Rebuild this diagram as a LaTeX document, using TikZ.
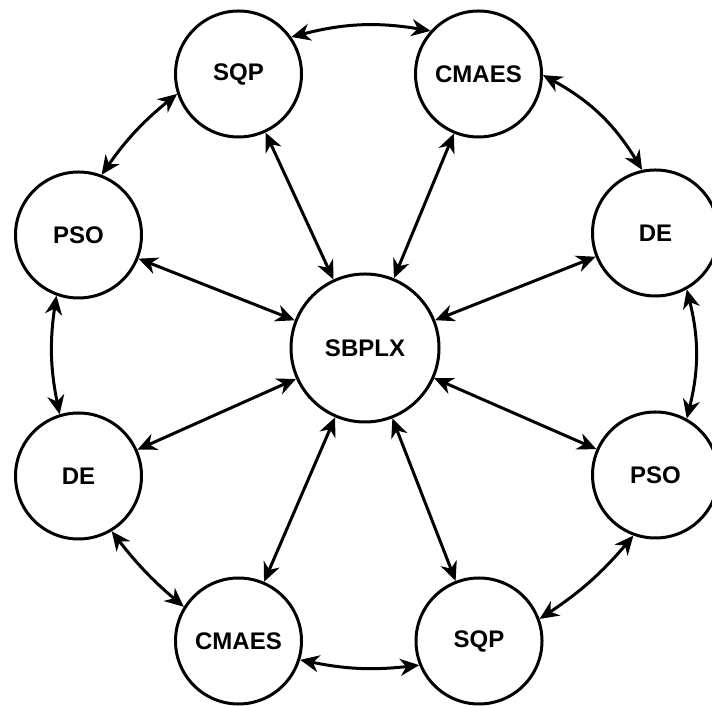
\documentclass[tikz,border=0pt]{standalone}
\usepackage{fontspec}
\setmainfont{Liberation Sans}
\usetikzlibrary{arrows.meta}
\begin{document}
\begin{tikzpicture}[x=1pt,y=1pt,
  alg/.style={circle,draw,line width=3pt,minimum size=126pt,inner sep=0pt,
    font=\fontsize{24}{28}\selectfont\bfseries},
  hub/.style={alg,minimum size=148pt},
  link/.style={line width=3pt,
    {Stealth[length=19pt,width=17pt,inset=6pt]}-{Stealth[length=19pt,width=17pt,inset=6pt]}}]
\useasboundingbox (0,0) rectangle (712,706);
\node[hub] (sbplx) at (365,358) {SBPLX};
\node[alg] (sqpT) at (238.5,632) {SQP};
\node[alg] (cmaesT) at (478.5,632) {CMAES};
\node[alg] (psoL) at (78.5,471) {PSO};
\node[alg] (deR) at (655.5,473) {DE};
\node[alg] (deL) at (78.5,230) {DE};
\node[alg] (psoR) at (655.5,231) {PSO};
\node[alg] (cmaesB) at (238.5,65) {CMAES};
\node[alg] (sqpB) at (479,65) {SQP};
% spokes
\foreach \n in {sqpT,cmaesT,psoL,deR,deL,psoR,cmaesB,sqpB}
  \draw[link] (sbplx) -- (\n);
% ring
\draw[link] (sqpT.35) to[bend left=12] (cmaesT.138);
\draw[link] (cmaesT.-1) to[bend left=15] (deR.102);
\draw[link] (deR.-61) to[bend left=14] (psoR.61);
\draw[link] (psoR.-110) to[bend left=8] (sqpB.20);
\draw[link] (sqpB.-158) to[bend left=9] (cmaesB.-17);
\draw[link] (cmaesB.148) to[bend left=6] (deL.-59);
\draw[link] (deL.107) to[bend left=10] (psoL.-110);
\draw[link] (psoL.69) to[bend left=8] (sqpT.198);
\end{tikzpicture}
\end{document}
